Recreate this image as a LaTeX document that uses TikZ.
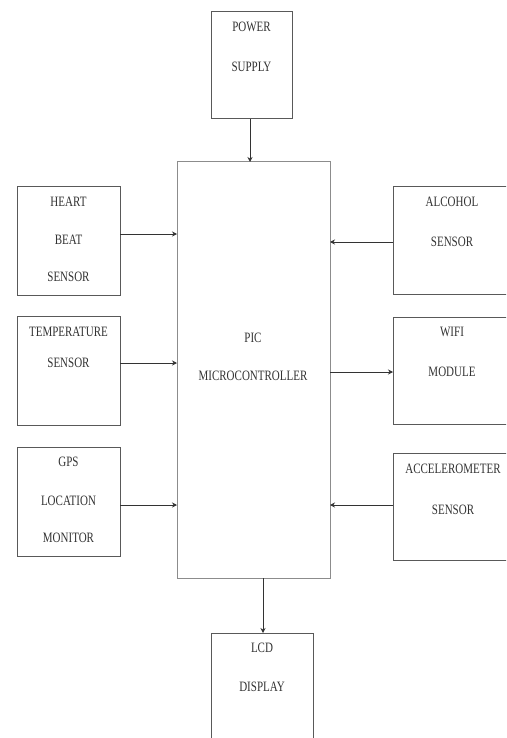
\documentclass[tikz,border=0pt]{standalone}
\usepackage{fontspec}
\setmainfont{Liberation Serif}
\usetikzlibrary{arrows.meta}
\newcommand{\tx}[1]{\scalebox{1}[1.3]{#1}}
\tikzset{
  blk/.style={draw=black!65, line width=1pt, inner sep=0pt, outer sep=0pt, fill=white},
  mcu/.style={draw=black!45, line width=1pt, inner sep=0pt, outer sep=0pt},
  lbl/.style={inner sep=0pt, text=black!80, font=\fontsize{11}{12}\selectfont},
  arr/.style={draw=black!80, line width=0.9pt, -{Stealth[length=5pt,width=5pt]}}
}
\begin{document}
\begin{tikzpicture}[x=1pt,y=-1pt]
\useasboundingbox (0,0) rectangle (506,738);
\clip (0,0) rectangle (506,738);
% boxes
\node[blk, minimum width=81pt, minimum height=107pt] (pwr) at (251.5,65.5) {};
\node[mcu, minimum width=153pt, minimum height=416pt] (micro) at (253.5,370) {};
\node[blk, minimum width=103pt, minimum height=109pt] (heart) at (68.5,240.5) {};
\node[blk, minimum width=103pt, minimum height=109pt] (temp) at (68.5,370.5) {};
\node[blk, minimum width=103pt, minimum height=109pt] (gps) at (68.5,501.5) {};
\node[blk, minimum width=120pt, minimum height=108pt] (alc) at (453,240) {};
\node[blk, minimum width=120pt, minimum height=107pt] (wifi) at (453,370.5) {};
\node[blk, minimum width=120pt, minimum height=107pt] (acc) at (453,506.5) {};
\node[blk, minimum width=102pt, minimum height=112pt] (lcd) at (262,689) {};
% texts
\node[lbl] (tp1) at (251.5,27) {\tx{POWER}};
\node[lbl] (tp2) at (251.5,67) {\tx{SUPPLY}};
\node[lbl] (tm1) at (253,338) {\tx{PIC}};
\node[lbl] (tm2) at (253,376) {\tx{MICROCONTROLLER}};
\node[lbl] (th1) at (68.5,202) {\tx{HEART}};
\node[lbl] (th2) at (68.5,240) {\tx{BEAT}};
\node[lbl] (th3) at (68.5,277) {\tx{SENSOR}};
\node[lbl] (tt1) at (68.5,332) {\tx{TEMPERATURE}};
\node[lbl] (tt2) at (68.5,363) {\tx{SENSOR}};
\node[lbl] (tg1) at (68.5,462) {\tx{GPS}};
\node[lbl] (tg2) at (68.5,501) {\tx{LOCATION}};
\node[lbl] (tg3) at (68.5,538) {\tx{MONITOR}};
\node[lbl] (ta1) at (452,202) {\tx{ALCOHOL}};
\node[lbl] (ta2) at (452,242) {\tx{SENSOR}};
\node[lbl] (tw1) at (452,332) {\tx{WIFI}};
\node[lbl] (tw2) at (452,372) {\tx{MODULE}};
\node[lbl] (tc1) at (453,469) {\tx{ACCELEROMETER}};
\node[lbl] (tc2) at (453,510) {\tx{SENSOR}};
\node[lbl] (tl1) at (262,648) {\tx{LCD}};
\node[lbl] (tl2) at (262,687) {\tx{DISPLAY}};
% connectors
\draw[arr] ([xshift=-1.5pt]pwr.south) -- ([xshift=-1.5pt]pwr.south |- micro.north);
\draw[arr] ([yshift=6.5pt]heart.east) -- ([yshift=6.5pt]heart.east -| micro.west);
\draw[arr] ([yshift=7.5pt]temp.east) -- ([yshift=7.5pt]temp.east -| micro.west);
\draw[arr] ([yshift=-3.5pt]gps.east) -- ([yshift=-3.5pt]gps.east -| micro.west);
\draw[arr] ([yshift=-2pt]alc.west) -- ([yshift=-2pt]alc.west -| micro.east);
\draw[arr] ([yshift=-1.5pt]wifi.west -| micro.east) -- ([yshift=-1.5pt]wifi.west);
\draw[arr] ([yshift=1.5pt]acc.west) -- ([yshift=1.5pt]acc.west -| micro.east);
\draw[arr] ([xshift=1pt]lcd.north |- micro.south) -- ([xshift=1pt]lcd.north);
\end{tikzpicture}
\end{document}
